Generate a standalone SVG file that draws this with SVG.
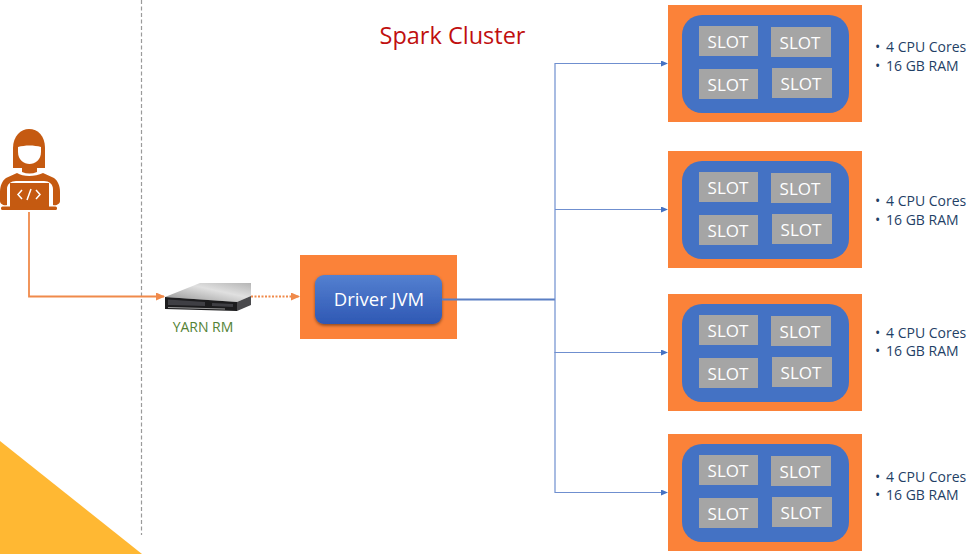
<svg xmlns="http://www.w3.org/2000/svg" width="971" height="554" viewBox="0 0 971 554">
<style>
text{font-family:"Open Sans","Noto Sans","Liberation Sans",sans-serif}
.o{fill:#fb8239}.b{fill:#4472c4}.s{fill:#a5a5a5}
.st{fill:#fff;font-size:17px;text-anchor:middle}
.sp{fill:#1f3f66;font-size:14px}
.c{fill:none;stroke:#6f8fcf;stroke-width:1.2}
.p{fill:#c55a11}
</style>
<defs>
<linearGradient id="g" x1="0" y1="0" x2="0" y2="1"><stop offset="0" stop-color="#5480d0"/><stop offset="1" stop-color="#2f58b4"/></linearGradient>
<linearGradient id="sv" x1="0" y1="1" x2="1" y2="0"><stop offset="0" stop-color="#8f8f8f"/><stop offset=".6" stop-color="#e0e0e0"/><stop offset="1" stop-color="#b5b5b5"/></linearGradient>
<filter id="sh" x="-10%" y="-10%" width="120%" height="130%"><feDropShadow dx="0" dy="1.5" stdDeviation="1.5" flood-color="#000" flood-opacity=".45"/></filter>
<marker id="ab" markerWidth="7" markerHeight="6" refX="6" refY="3" orient="auto" markerUnits="userSpaceOnUse"><path d="M0 0L7 3L0 6Z" fill="#4472c4"/></marker>
<marker id="ao" markerWidth="9" markerHeight="8" refX="8" refY="4" orient="auto" markerUnits="userSpaceOnUse"><path d="M0 0L9 4L0 8Z" fill="#f08a4b"/></marker>
<g id="w"><rect class="o" x="668" y="5" width="194" height="117"/><rect class="b" x="682" y="15" width="167" height="98" rx="20"/>
<rect class="s" x="699" y="26" width="59" height="30"/><rect class="s" x="771" y="27" width="60" height="30"/><rect class="s" x="699" y="69" width="59" height="30"/><rect class="s" x="772" y="68" width="60" height="30"/>
<text class="st" x="728" y="48">SLOT</text><text class="st" x="800" y="49">SLOT</text><text class="st" x="728" y="91">SLOT</text><text class="st" x="801" y="90">SLOT</text></g>
</defs>
<rect width="971" height="554" fill="#fff"/>
<path d="M0 441L142 554H0Z" fill="#ffb833"/>
<line x1="141.500" y1="0" x2="141.500" y2="535" stroke="#9a9a9a" stroke-width="1.200" stroke-dasharray="4 2.500"/>
<text x="452.500" y="44" text-anchor="middle" font-size="23.500" fill="#c00f0f">Spark Cluster</text>
<g id="developer">
<path class="p" d="M13 168V148C13 136 21 129 29 129C38 129 45 136 45 148V168Z"/>
<path d="M18 147C25 145 34 145 41 147V152C41 160 35 164 29.500 164C24 164 18 160 18 152Z" fill="#fff"/>
<path class="p" d="M22 167H37V172C32 174 27 174 22 172Z"/>
<path class="p" d="M17 173C23 177 35 177 43 173L54 178C58 181 60 186 60 192V201C60 204 56 206 53 205V189C53 184 49 181 44 181H16C11 181 7 184 7 189V205C4 206 0 204 0 201V192C0 186 2 181 6 178Z"/>
<rect class="p" x="10" y="183" width="39" height="24"/>
<rect class="p" x="1" y="206.500" width="56" height="3.500" rx="1.500"/>
<path d="M22 190L18 194.500L22 199M36 190L40 194.500L36 199M31 189L27 200" fill="none" stroke="#fff" stroke-width="1.500"/>
</g>
<g id="yarn-rm">
<path d="M165 297L200 283H251V296L237 302Z" fill="url(#sv)"/>
<path d="M165 297L237 302V311L165 309Z" fill="#1c1c1e"/>
<path d="M237 302L251 296V305L237 311Z" fill="#4a4a4d"/>
<path d="M168 299.500L205 302V306L168 305ZM212 303L233 304V307L212 306Z" fill="#3f3f44"/>
<path d="M168 307.500L225 309" stroke="#9a9a9a" stroke-width="1"/>
<text x="203" y="332" text-anchor="middle" font-size="14" fill="#548235">YARN RM</text>
</g>
<g id="driver">
<rect class="o" x="300" y="255" width="157" height="84"/>
<rect x="315" y="275" width="127" height="49" rx="9" fill="url(#g)" filter="url(#sh)"/>
<text x="379" y="306" text-anchor="middle" font-size="18.500" fill="#fff">Driver JVM</text>
</g>
<g id="worker-1"><use href="#w"/></g>
<g id="worker-2"><use href="#w" y="146"/></g>
<g id="worker-3"><use href="#w" y="289"/></g>
<g id="worker-4"><use href="#w" y="429"/></g>
<g id="spec-1" class="sp"><text x="875" y="52">•<tspan x="886">4 CPU Cores</tspan></text><text x="875" y="71">•<tspan x="886">16 GB RAM</tspan></text></g>
<g id="spec-2" class="sp"><text x="875" y="206">•<tspan x="886">4 CPU Cores</tspan></text><text x="875" y="225">•<tspan x="886">16 GB RAM</tspan></text></g>
<g id="spec-3" class="sp"><text x="875" y="338">•<tspan x="886">4 CPU Cores</tspan></text><text x="875" y="356">•<tspan x="886">16 GB RAM</tspan></text></g>
<g id="spec-4" class="sp"><text x="875" y="482">•<tspan x="886">4 CPU Cores</tspan></text><text x="875" y="500">•<tspan x="886">16 GB RAM</tspan></text></g>
<g id="connectors">
<path d="M29 212V296.500H164" fill="none" stroke="#f08a4b" stroke-width="1.800" marker-end="url(#ao)"/>
<path d="M251 296.500H299" fill="none" stroke="#f08a4b" stroke-width="1.800" stroke-dasharray="2 1.500" marker-end="url(#ao)"/>
<path d="M442 299.500H555" fill="none" stroke="#5a7fc4" stroke-width="1.800"/>
<path class="c" d="M555 300V63.500H667" marker-end="url(#ab)"/>
<path class="c" d="M555 209.500H667" marker-end="url(#ab)"/>
<path class="c" d="M555 300V352.500H667" marker-end="url(#ab)"/>
<path class="c" d="M555 352V492.500H667" marker-end="url(#ab)"/>
</g>
</svg>
